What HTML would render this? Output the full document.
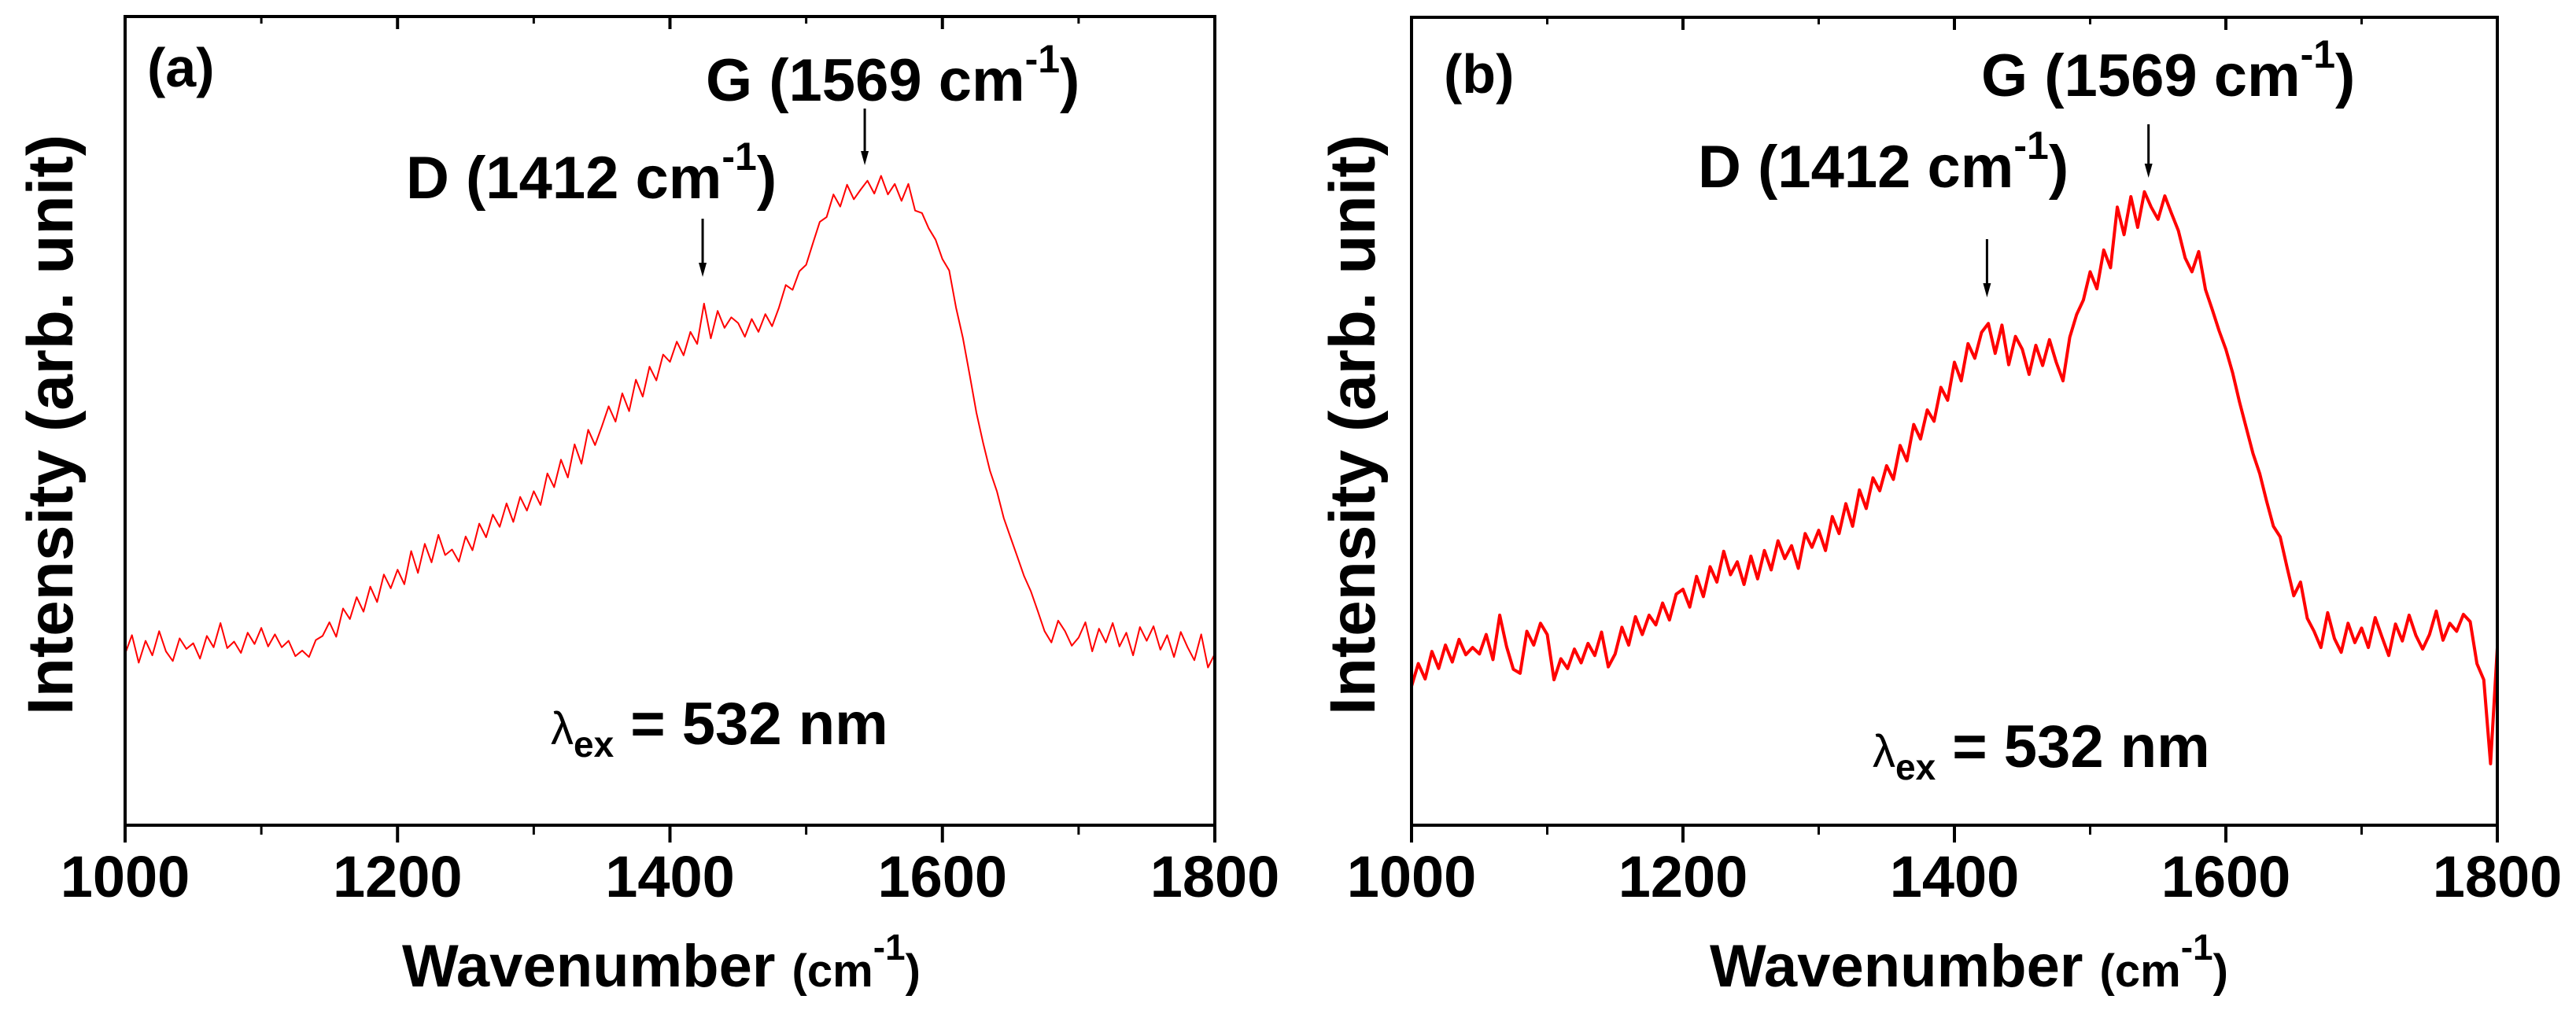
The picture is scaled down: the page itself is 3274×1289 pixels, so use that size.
<!DOCTYPE html>
<html><head><meta charset="utf-8"><style>
html,body{margin:0;padding:0;background:#fff}
svg{display:block}
text{font-family:"Liberation Sans",Arial,sans-serif;font-weight:bold;fill:#000}
</style></head><body>
<svg id="fig" width="3274" height="1289" viewBox="0 0 3274 1289" xmlns="http://www.w3.org/2000/svg"></svg>
<script>
const xTicks = [1000, 1200, 1400, 1600, 1800];
const xMinor = [1100, 1300, 1500, 1700];
const wnStart = 1000, wnStep = 5;
const seriesA = [
21.2,23.5,20.1,22.8,21.0,24.0,21.5,20.3,23.1,21.8,
22.5,20.6,23.4,22.0,25.0,21.9,22.7,21.3,23.8,22.4,
24.4,22.1,23.6,22.0,22.8,20.9,21.6,20.8,22.9,23.4,
25.1,23.3,26.8,25.5,28.2,26.4,29.5,27.6,31.0,29.3,
31.6,29.8,33.9,31.2,34.8,32.5,35.9,33.4,34.1,32.6,
35.7,34.0,37.3,35.6,38.4,36.9,39.8,37.5,40.6,38.9,
41.3,39.6,43.5,41.8,45.2,43.0,47.1,44.7,48.9,47.0,
49.3,51.8,49.9,53.4,51.2,55.1,53.0,56.7,55.0,58.2,
57.3,59.8,58.1,61.0,59.5,64.5,60.2,63.6,61.5,62.8,
62.1,60.4,62.6,61.0,63.2,61.7,64.0,66.8,66.2,68.5,
69.3,72.0,74.6,75.2,78.0,76.5,79.2,77.4,78.6,79.7,
78.1,80.3,78.0,79.3,77.2,79.3,76.0,75.7,73.8,72.4,
70.0,68.6,64.0,60.3,55.7,51.0,47.2,43.8,41.3,38.0,
35.6,33.2,30.8,28.9,26.5,24.0,22.6,25.3,24.0,22.2,
23.2,25.1,21.5,24.3,22.6,25.0,22.1,23.8,21.0,24.5,
22.8,24.6,21.7,23.5,20.8,23.9,22.0,20.4,23.6,19.5,
21.2];
const seriesB = [
17.2,20.0,18.1,21.5,19.4,22.3,20.2,23.0,21.1,22.0,
21.2,23.6,20.5,26.0,22.1,19.3,18.8,24.0,22.3,25.0,
23.6,18.0,20.6,19.4,21.8,20.1,22.5,21.0,23.9,19.6,
21.2,24.5,22.3,25.8,23.6,26.0,24.8,27.5,25.4,28.6,
29.2,27.0,30.8,28.3,32.0,30.1,33.9,31.0,32.6,29.8,
33.3,30.5,34.0,31.6,35.2,33.0,34.6,31.8,36.1,34.4,
36.5,34.0,38.2,36.1,39.8,37.0,41.5,39.2,43.0,41.4,
44.5,42.8,47.0,45.1,49.6,47.8,51.4,50.0,54.2,52.6,
57.3,55.0,59.6,57.8,61.0,62.1,58.4,61.9,57.0,60.5,
58.9,55.8,59.4,56.9,60.1,57.3,55.0,60.4,63.2,65.0,
68.5,66.4,71.2,69.0,76.5,73.1,77.8,74.0,78.4,76.5,
75.0,77.9,75.7,73.6,70.2,68.5,71.0,66.3,63.8,61.2,
58.9,56.0,52.4,49.2,46.0,43.5,40.1,37.0,35.7,32.0,
28.4,30.1,25.6,24.0,22.0,26.3,23.1,21.4,25.0,22.6,
24.4,22.0,25.7,23.3,21.0,24.9,22.8,26.0,23.5,21.8,
23.6,26.5,22.9,25.0,24.0,26.1,25.2,20.0,18.0,7.6,
22.0];
const peakD = 1424, peakG = 1543;

const NS = "http://www.w3.org/2000/svg";
const svg = document.getElementById('fig');
function mk(tag, attrs, parent){const e=document.createElementNS(NS,tag);for(const k in attrs)e.setAttribute(k,attrs[k]);(parent||svg).appendChild(e);return e;}

function panel(p){
  const g = mk('g',{});
  
  
  const sx = v => p.x0 + (v-1000)/800*(p.x1-p.x0);
  const sy = v => p.y1 - v/100*(p.y1-p.y0);
  let d='';
  p.data.forEach((v,i)=>{d+=(i?'L':'M')+sx(wnStart+i*wnStep).toFixed(1)+','+sy(v).toFixed(1);});
  const path = mk('path',{d:d,fill:'none',stroke:'#ff0000','stroke-width':p.lw,'stroke-linejoin':'round'},g);
  
  
  const fr = mk('rect',{x:p.x0,y:p.y0,width:p.x1-p.x0,height:p.y1-p.y0,fill:'none',stroke:'#000','stroke-width':4},g);
  
  
  xTicks.forEach(t=>{
    mk('line',{x1:sx(t),x2:sx(t),y1:p.y1,y2:p.y1+22,stroke:'#000','stroke-width':4},g);
    mk('line',{x1:sx(t),x2:sx(t),y1:p.y0,y2:p.y0+16,stroke:'#000','stroke-width':4},g);
    const tl = mk('text',{x:sx(t),y:1140,'font-size':74,'text-anchor':'middle'},g);
    tl.textContent = t;
    
    
  });
  xMinor.forEach(t=>{
    mk('line',{x1:sx(t),x2:sx(t),y1:p.y1,y2:p.y1+12,stroke:'#000','stroke-width':3},g);
    mk('line',{x1:sx(t),x2:sx(t),y1:p.y0,y2:p.y0+9,stroke:'#000','stroke-width':3},g);
  });
  [[peakD,p.dArrow],[peakG,p.gArrow]].forEach(([v,a],i)=>{
    const x=sx(v);
    const ar = mk('g',{},g);
    
    
    mk('line',{x1:x,x2:x,y1:a[0],y2:a[1]-14,stroke:'#000','stroke-width':3},ar);
    mk('path',{d:`M${x-5},${a[1]-18}L${x+5},${a[1]-18}L${x},${a[1]}Z`,fill:'#000'},ar);
  });
  return {g,sx,sy};
}

function label(parent, html, attrs, name){
  const t = mk('text', attrs, parent);
  t.innerHTML = html;
  
  
  return t;
}

const panels = [
 {id:'a', x0:159, x1:1544, y0:21, y1:1049, lw:2, data:seriesA, dArrow:[278,352], gArrow:[138,210],
  letter:[187,110], D:[516,252], G:[897,128], lam:[700,946], xt:[511,1254], yt:63},
 {id:'b', x0:1794, x1:3174, y0:22, y1:1049, lw:4, data:seriesB, dArrow:[304,378], gArrow:[158,226],
  letter:[1835,118], D:[2158,238], G:[2518,122], lam:[2380,975], xt:[2173,1254], yt:1718}
];
panels.forEach(p=>{
  const {g} = panel(p);
  label(g, '('+p.id+')', {x:p.letter[0], y:p.letter[1], 'font-size':70}, 'panel-label-'+p.id);
  label(g, 'D (1412 cm<tspan font-size="50" dy="-36">-1</tspan><tspan dy="36">)</tspan>', {x:p.D[0], y:p.D[1], 'font-size':76}, 'd-band-annotation');
  label(g, 'G (1569 cm<tspan font-size="50" dy="-36">-1</tspan><tspan dy="36">)</tspan>', {x:p.G[0], y:p.G[1], 'font-size':76}, 'g-band-annotation');
  label(g, '<tspan font-size="58" font-weight="normal">λ</tspan><tspan font-size="46" dy="16">ex</tspan><tspan dy="-16"> = 532 nm</tspan>', {x:p.lam[0], y:p.lam[1], 'font-size':76}, 'excitation-wavelength-label');
  label(g, 'Wavenumber <tspan font-size="58">(cm</tspan><tspan font-size="46" dy="-34">-1</tspan><tspan font-size="58" dy="34">)</tspan>', {x:p.xt[0], y:p.xt[1], 'font-size':76}, 'x-axis-title');
  label(g, 'Intensity (arb. unit)', {x:p.yt, y:540, 'font-size':82, 'text-anchor':'middle', transform:`rotate(-90 ${p.yt} 540) translate(0 29)`}, 'y-axis-title');
});
</script>
</body></html>
